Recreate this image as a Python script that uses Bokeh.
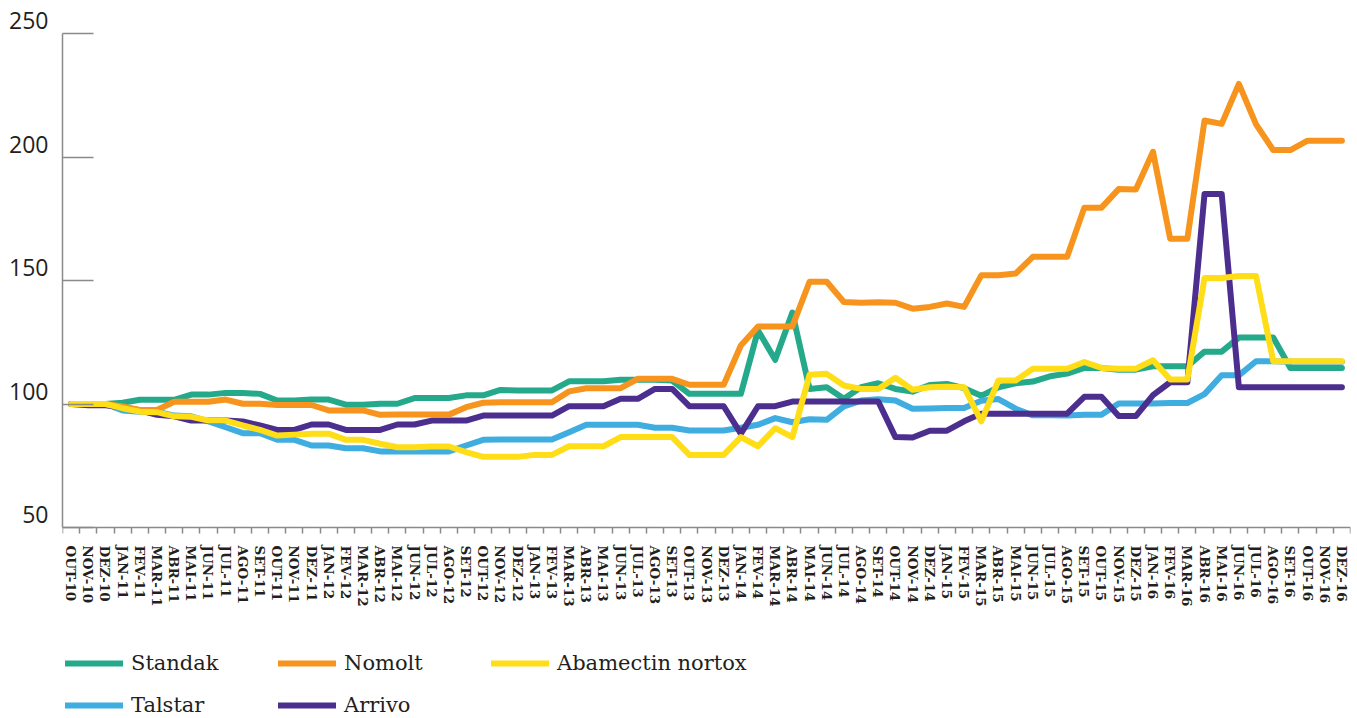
from bokeh.plotting import figure
from bokeh.models import FixedTicker, Legend, LegendItem, LinearAxis, Range1d
from bokeh.embed import file_html
from bokeh.resources import INLINE

months = [
    "OUT-10", "NOV-10", "DEZ-10",
    "JAN-11", "FEV-11", "MAR-11", "ABR-11", "MAI-11", "JUN-11", "JUL-11", "AGO-11", "SET-11", "OUT-11", "NOV-11", "DEZ-11",
    "JAN-12", "FEV-12", "MAR-12", "ABR-12", "MAI-12", "JUN-12", "JUL-12", "AGO-12", "SET-12", "OUT-12", "NOV-12", "DEZ-12",
    "JAN-13", "FEV-13", "MAR-13", "ABR-13", "MAI-13", "JUN-13", "JUL-13", "AGO-13", "SET-13", "OUT-13", "NOV-13", "DEZ-13",
    "JAN-14", "FEV-14", "MAR-14", "ABR-14", "MAI-14", "JUN-14", "JUL-14", "AGO-14", "SET-14", "OUT-14", "NOV-14", "DEZ-14",
    "JAN-15", "FEV-15", "MAR-15", "ABR-15", "MAI-15", "JUN-15", "JUL-15", "AGO-15", "SET-15", "OUT-15", "NOV-15", "DEZ-15",
    "JAN-16", "FEV-16", "MAR-16", "ABR-16", "MAI-16", "JUN-16", "JUL-16", "AGO-16", "SET-16", "OUT-16", "NOV-16", "DEZ-16",
]

standak = [
    100, 100, 100, 100.5, 101.7, 101.7, 101.7, 103.8, 103.8, 104.5, 104.5, 104.1,
    101.4, 101.4, 101.8, 101.8, 99.7, 99.7, 100.1, 100.1, 102.4, 102.4, 102.4, 103.5,
    103.5, 105.7, 105.5, 105.5, 105.5, 109.2, 109.2, 109.2, 109.8, 109.8, 109.8, 109.5,
    104.1, 104.1, 104.1, 104.1, 129.8, 117.9, 137.0, 106.1, 106.8, 102.1, 106.8, 108.4,
    106.1, 105.0, 107.7, 108.1, 106.4, 103.3, 106.8, 108.4, 109.1, 111.2, 112.3, 114.6,
    114.6, 113.9, 113.9, 115.3, 115.3, 115.3, 121.2, 121.2, 126.9, 126.9, 126.9, 114.6,
    114.6, 114.6, 114.6,
]

nomolt = [
    100, 100, 100, 99.0, 97.6, 97.6, 100.9, 100.9, 100.9, 101.8, 100.1, 100.1,
    99.6, 99.6, 99.6, 97.4, 97.4, 97.4, 95.6, 95.7, 95.7, 95.7, 95.7, 98.7,
    100.5, 100.7, 100.7, 100.7, 100.7, 105.1, 106.4, 106.4, 106.4, 110.2, 110.2, 110.2,
    107.8, 107.8, 107.8, 123.7, 131.4, 131.4, 131.4, 149.5, 149.5, 141.3, 141.0, 141.2,
    141.0, 138.6, 139.3, 140.7, 139.3, 152.1, 152.1, 152.8, 159.6, 159.6, 159.6, 179.5,
    179.5, 187.0, 186.8, 202.1, 166.9, 166.9, 214.8, 213.4, 229.6, 213.2, 202.8, 202.8,
    206.6, 206.6, 206.6,
]

abamectin = [
    100, 100, 100, 98.3, 96.9, 96.7, 95.0, 94.8, 93.3, 93.3, 91.3, 89.5,
    87.2, 87.6, 88.0, 88.0, 85.5, 85.5, 83.9, 82.5, 82.5, 82.8, 82.8, 80.5,
    78.6, 78.6, 78.6, 79.4, 79.4, 82.9, 82.9, 82.9, 86.6, 86.6, 86.6, 86.6,
    79.4, 79.4, 79.4, 86.6, 82.9, 90.2, 86.6, 111.8, 112.2, 107.5, 106.1, 106.1,
    110.6, 105.8, 106.8, 107.0, 106.8, 93.0, 109.5, 109.5, 114.3, 114.3, 114.3, 117.0,
    114.6, 114.3, 114.3, 117.7, 109.9, 109.9, 151.0, 151.0, 151.8, 151.8, 117.3, 117.3,
    117.3, 117.3, 117.3,
]

talstar = [
    100, 100, 100, 97.4, 96.9, 96.9, 95.3, 95.0, 93.0, 90.6, 88.2, 88.2,
    85.5, 85.5, 83.2, 83.2, 82.1, 82.1, 80.8, 80.8, 80.8, 80.8, 80.8, 83.2,
    85.5, 85.6, 85.6, 85.6, 85.6, 88.6, 91.6, 91.6, 91.6, 91.6, 90.4, 90.4,
    89.3, 89.3, 89.3, 90.4, 91.6, 94.3, 92.6, 93.8, 93.6, 99.0, 101.4, 101.9,
    101.4, 98.1, 98.2, 98.4, 98.4, 101.3, 102.0, 98.1, 95.4, 95.4, 95.3, 95.6,
    95.6, 100.2, 100.2, 100.2, 100.4, 100.4, 104.0, 111.6, 111.6, 117.3, 117.3, 117.1,
    117.1, 117.1, 117.1,
]

arrivo = [
    100, 99.5, 99.5, 98.7, 97.4, 95.6, 95.0, 93.3, 93.3, 93.3, 92.9, 91.3,
    89.5, 89.5, 91.7, 91.7, 89.5, 89.5, 89.5, 91.7, 91.7, 93.3, 93.3, 93.3,
    95.3, 95.3, 95.3, 95.3, 95.3, 99.1, 99.1, 99.1, 102.1, 102.1, 106.1, 106.1,
    99.1, 99.1, 99.1, 88.0, 99.1, 99.1, 101.0, 101.0, 101.0, 101.0, 101.0, 101.0,
    86.6, 86.4, 89.2, 89.2, 93.0, 96.1, 96.1, 96.1, 96.1, 96.1, 96.1, 102.9,
    102.9, 95.1, 95.1, 103.6, 108.8, 108.8, 185.0, 185.0, 106.8, 106.8, 106.8, 106.8,
    106.8, 106.8, 106.8,
]

y_ticks = [50, 100, 150, 200, 250]
y_tick_labels = ["50", "100", "150", "200", "250"]

colors = {
    "Standak": "#24AA8A",
    "Nomolt": "#F7941D",
    "Abamectin nortox": "#FFDD17",
    "Talstar": "#3FADDF",
    "Arrivo": "#4B2E8E",
}
data = {
    "Standak": standak,
    "Nomolt": nomolt,
    "Abamectin nortox": abamectin,
    "Talstar": talstar,
    "Arrivo": arrivo,
}
legend_order = ["Standak", "Nomolt", "Abamectin nortox", "Talstar", "Arrivo"]

x = list(range(len(months)))

# Layout: the frame runs from y=18px to the bottom of the canvas; the value
# axis spans 50..250 (527px..33px) and the area below 50 holds the month
# labels and the legend.
W, H = 1357, 718
FRAME_TOP = 18
PX_PER_UNIT = (527 - 33) / 200.0
Y_TOP = 250 + (33 - FRAME_TOP) / PX_PER_UNIT
Y_BOTTOM = 50 - (H - 527) / PX_PER_UNIT

p = figure(
    width=W, height=H,
    x_range=Range1d(-0.5, len(months) - 0.5),
    y_range=Range1d(Y_BOTTOM, Y_TOP),
    output_backend="svg", toolbar_location=None,
    min_border_left=62, min_border_top=FRAME_TOP, min_border_right=7, min_border_bottom=0,
)
p.outline_line_color = None
p.xgrid.visible = False
p.ygrid.visible = False

renderers = {}
for name in ["Standak", "Talstar", "Arrivo", "Nomolt", "Abamectin nortox"]:
    renderers[name] = p.line(
        x, data[name], line_width=6, line_color=colors[name],
        line_join="round", line_cap="round",
    )

axis_grey = "#8a8a8a"
text_dark = "#231f20"

# x axis, drawn at value 50
xa = p.xaxis[0]
xa.fixed_location = 50
xa.ticker = FixedTicker(ticks=x, minor_ticks=[i - 0.5 for i in range(len(months) + 1)])
xa.major_label_overrides = {i: m for i, m in enumerate(months)}
xa.major_label_orientation = "vertical"
xa.major_tick_in = 0
xa.major_tick_out = 0
xa.minor_tick_in = 0
xa.minor_tick_out = 6
xa.minor_tick_line_color = axis_grey
xa.minor_tick_line_width = 1.5
xa.axis_line_color = axis_grey
xa.axis_line_width = 1.5
xa.major_label_standoff = 12
xa.major_label_text_font = "DejaVu Serif"
xa.major_label_text_font_style = "bold"
xa.major_label_text_font_size = "13.5px"
xa.major_label_text_color = text_dark

# y axis: line and inward ticks only
ya = p.yaxis[0]
ya.ticker = FixedTicker(ticks=[], minor_ticks=y_ticks)
ya.bounds = (50, 250)
ya.major_tick_in = 0
ya.major_tick_out = 0
ya.minor_tick_in = 31
ya.minor_tick_out = 0
ya.minor_tick_line_color = axis_grey
ya.minor_tick_line_width = 1.5
ya.axis_line_color = axis_grey
ya.axis_line_width = 1.5

# y labels sit ~13px above their ticks
shift = 13 / PX_PER_UNIT
label_pos = [round(v + shift, 2) for v in y_ticks]
yb = LinearAxis(
    ticker=FixedTicker(ticks=label_pos),
    major_label_overrides={lp: t for lp, t in zip(label_pos, y_tick_labels)},
    axis_line_color=None, major_tick_line_color=None, minor_tick_line_color=None,
    major_tick_in=0, major_tick_out=0, minor_tick_in=0, minor_tick_out=0,
    major_label_standoff=14,
    major_label_text_font="Open Sans", major_label_text_font_size="23px",
    major_label_text_color=text_dark,
)
p.add_layout(yb, "left")

legend = Legend(
    items=[LegendItem(label=n, renderers=[renderers[n]]) for n in legend_order],
    orientation="horizontal", ncols=3,
    location=(3, 0),
    spacing=16, glyph_width=58, glyph_height=26, label_height=26, label_width=131,
    label_standoff=8, padding=0, margin=0,
    border_line_color=None, background_fill_alpha=0,
    label_text_font="DejaVu Serif", label_text_font_size="21px",
    label_text_color=text_dark, label_text_baseline="middle",
)
p.add_layout(legend, "center")

open("out.html", "w").write(file_html(p, INLINE))
